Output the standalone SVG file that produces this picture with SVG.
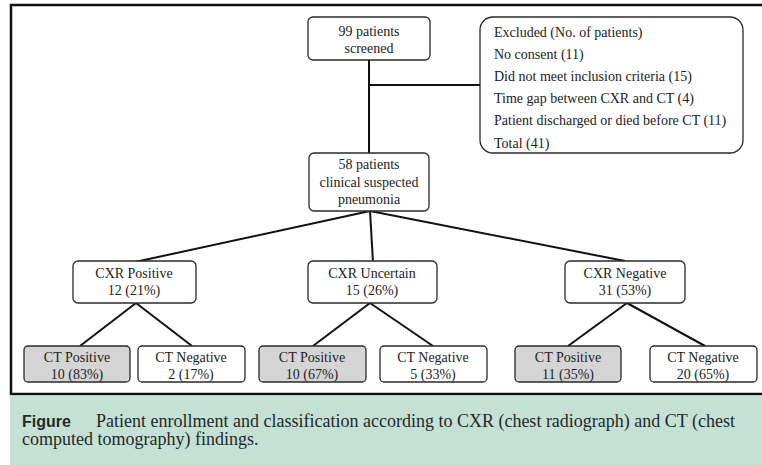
<svg xmlns="http://www.w3.org/2000/svg" width="762" height="465" viewBox="0 0 762 465">
<style>
.box{fill:#fff;stroke:#2a2a2a;stroke-width:1.3}
.gray{fill:#d5d5d5}
.t{font-family:'Liberation Serif','DejaVu Serif',serif;font-size:14px;fill:#222;text-anchor:middle}
.tl{text-anchor:start}
.c{stroke:#111;stroke-width:2;fill:none}
.cap{font-family:'Liberation Serif','DejaVu Serif',serif;font-size:18px;fill:#1e2a28}
</style>
<rect x="0" y="0" width="762" height="465" fill="#fff"/>
<rect x="11" y="5" width="770" height="389" fill="#fff" stroke="#111" stroke-width="2.5"/>
<rect x="10" y="396" width="752" height="69" fill="#c5e1d5"/>
<g id="connectors">
<polyline class="c" points="369,60 369,153"/>
<line class="c" x1="369" y1="85" x2="480" y2="85"/>
<line class="c" x1="370" y1="211" x2="135" y2="262"/>
<line class="c" x1="370" y1="211" x2="373" y2="262"/>
<line class="c" x1="370" y1="211" x2="625" y2="261"/>
<line class="c" x1="136" y1="303" x2="80" y2="346"/>
<line class="c" x1="136" y1="303" x2="192" y2="346"/>
<line class="c" x1="370" y1="303" x2="313" y2="346"/>
<line class="c" x1="370" y1="303" x2="433" y2="346"/>
<line class="c" x1="627" y1="303" x2="568" y2="346"/>
<line class="c" x1="627" y1="303" x2="705" y2="346"/>
</g>
<g id="screened">
<rect class="box" x="308" y="17" width="122" height="43" rx="5"/>
<text class="t" x="369" y="36">99 patients</text>
<text class="t" x="369" y="53">screened</text>
</g>
<g id="excluded">
<rect class="box" x="480" y="17" width="263" height="136" rx="13"/>
<text class="t tl" x="494" y="37">Excluded (No. of patients)</text>
<text class="t tl" x="494" y="59">No consent (11)</text>
<text class="t tl" x="494" y="81">Did not meet inclusion criteria (15)</text>
<text class="t tl" x="494" y="103">Time gap between CXR and CT (4)</text>
<text class="t tl" x="494" y="125">Patient discharged or died before CT (11)</text>
<text class="t tl" x="494" y="148">Total (41)</text>
</g>
<g id="suspected">
<rect class="box" x="309" y="153" width="120" height="58" rx="5"/>
<text class="t" x="369" y="169">58 patients</text>
<text class="t" x="369" y="187">clinical suspected</text>
<text class="t" x="369" y="204">pneumonia</text>
</g>
<g id="cxr-positive">
<rect class="box" x="73" y="261" width="123" height="42" rx="5"/>
<text class="t" x="134" y="278">CXR Positive</text>
<text class="t" x="134" y="295">12 (21%)</text>
</g>
<g id="cxr-uncertain">
<rect class="box" x="308" y="261" width="129" height="42" rx="5"/>
<text class="t" x="372" y="278">CXR Uncertain</text>
<text class="t" x="372" y="295">15 (26%)</text>
</g>
<g id="cxr-negative">
<rect class="box" x="565" y="261" width="120" height="42" rx="5"/>
<text class="t" x="625" y="278">CXR Negative</text>
<text class="t" x="625" y="295">31 (53%)</text>
</g>
<g id="ct-pos-1">
<rect class="box gray" x="24" y="346" width="106" height="36" rx="4"/>
<text class="t" x="77" y="362">CT Positive</text>
<text class="t" x="77" y="379">10 (83%)</text>
</g>
<g id="ct-neg-1">
<rect class="box" x="138" y="346" width="107" height="36" rx="4"/>
<text class="t" x="191" y="362">CT Negative</text>
<text class="t" x="191" y="379">2 (17%)</text>
</g>
<g id="ct-pos-2">
<rect class="box gray" x="259" y="346" width="107" height="36" rx="4"/>
<text class="t" x="312" y="362">CT Positive</text>
<text class="t" x="312" y="379">10 (67%)</text>
</g>
<g id="ct-neg-2">
<rect class="box" x="380" y="346" width="107" height="36" rx="4"/>
<text class="t" x="433" y="362">CT Negative</text>
<text class="t" x="433" y="379">5 (33%)</text>
</g>
<g id="ct-pos-3">
<rect class="box gray" x="515" y="346" width="106" height="36" rx="4"/>
<text class="t" x="568" y="362">CT Positive</text>
<text class="t" x="568" y="379">11 (35%)</text>
</g>
<g id="ct-neg-3">
<rect class="box" x="650" y="346" width="107" height="36" rx="4"/>
<text class="t" x="703" y="362">CT Negative</text>
<text class="t" x="703" y="379">20 (65%)</text>
</g>
<g id="caption">
<text x="22" y="427" font-family="'Liberation Sans',Arial,sans-serif" font-weight="bold" font-size="16" fill="#1e2a28">Figure</text>
<text class="cap" x="96" y="427">Patient enrollment and classification according to CXR (chest radiograph) and CT (chest</text>
<text class="cap" x="22" y="445">computed tomography) findings.</text>
</g>
</svg>
